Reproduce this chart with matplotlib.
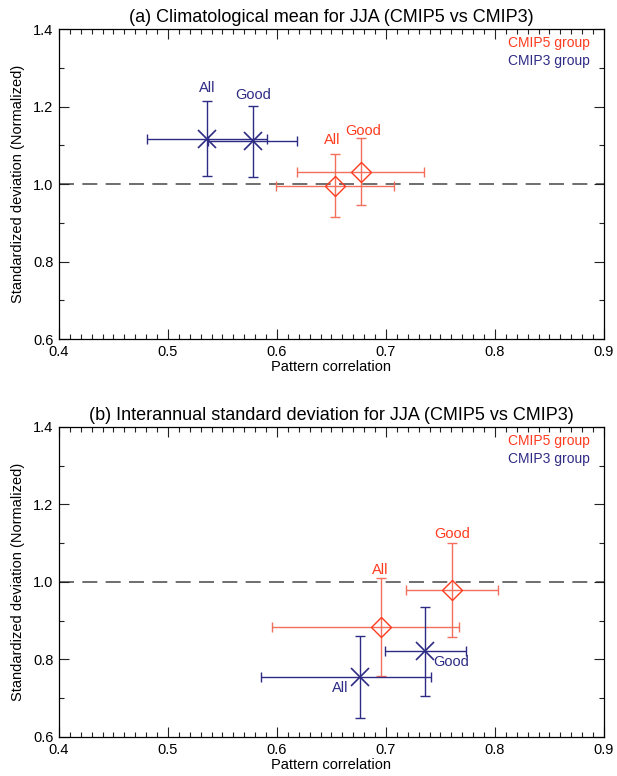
import matplotlib.pyplot as plt
from matplotlib.ticker import MultipleLocator

plt.rcParams['font.family'] = ['Liberation Sans', 'DejaVu Sans']

# panel (a) climatological mean, panel (b) interannual std
titles = ['(a) Climatological mean for JJA (CMIP5 vs CMIP3)',
          '(b) Interannual standard deviation for JJA (CMIP5 vs CMIP3)']

# each group: [All, Good]; corr, corr low/high, std, std low/high
cmip3_corr = [[0.536, 0.578], [0.676, 0.736]]
cmip3_corr_lo = [[0.481, 0.537], [0.585, 0.699]]
cmip3_corr_hi = [[0.591, 0.618], [0.741, 0.773]]
cmip3_std = [[1.116, 1.111], [0.754, 0.822]]
cmip3_std_lo = [[1.021, 1.017], [0.648, 0.707]]
cmip3_std_hi = [[1.214, 1.202], [0.861, 0.936]]

cmip5_corr = [[0.653, 0.677], [0.695, 0.761]]
cmip5_corr_lo = [[0.599, 0.618], [0.595, 0.718]]
cmip5_corr_hi = [[0.707, 0.735], [0.767, 0.803]]
cmip5_std = [[0.995, 1.032], [0.885, 0.978]]
cmip5_std_lo = [[0.914, 0.945], [0.757, 0.857]]
cmip5_std_hi = [[1.077, 1.118], [1.009, 1.100]]

point_names = ['All', 'Good']

RED = '#ff3b1f'
RED_BAR = '#f4705c'
BLUE = '#2e2b85'

# label offsets in points (dx, dy) per panel / group / point
off3 = [[(0, 37), (0, 33)], [(-14, -8), (19, -8)]]
off5 = [[(-1.5, 33), (1.5, 29)], [(0, 41), (0, 41)]]

fig = plt.figure(figsize=(6.17, 7.76), dpi=100)
ax_a = fig.add_axes([0.0956, 0.5631, 0.8833, 0.3995])
ax_b = fig.add_axes([0.0956, 0.0503, 0.8833, 0.3995])

for p, ax in enumerate([ax_a, ax_b]):
    ax.axhline(1.0, color='#555555', lw=1.2, dashes=(9, 5), zorder=1)

    for i in range(2):
        # CMIP5 diamonds
        x, y = cmip5_corr[p][i], cmip5_std[p][i]
        ax.errorbar(x, y,
                    xerr=[[x - cmip5_corr_lo[p][i]], [cmip5_corr_hi[p][i] - x]],
                    yerr=[[y - cmip5_std_lo[p][i]], [cmip5_std_hi[p][i] - y]],
                    fmt='none', ecolor=RED_BAR, elinewidth=1.0, capsize=3.5,
                    capthick=1.0, zorder=2)
        ax.plot(x, y, marker='D', ms=10, mfc='none', mec=RED, mew=1.0,
                ls='none', zorder=3)
        ax.annotate(point_names[i], (x, y), xytext=off5[p][i],
                    textcoords='offset points', ha='center', va='center',
                    color=RED, fontsize=10.5)

        # CMIP3 crosses
        x, y = cmip3_corr[p][i], cmip3_std[p][i]
        ax.errorbar(x, y,
                    xerr=[[x - cmip3_corr_lo[p][i]], [cmip3_corr_hi[p][i] - x]],
                    yerr=[[y - cmip3_std_lo[p][i]], [cmip3_std_hi[p][i] - y]],
                    fmt='none', ecolor=BLUE, elinewidth=1.0, capsize=3.5,
                    capthick=1.0, zorder=4)
        ax.plot(x, y, marker='x', ms=13, mec=BLUE, mew=1.2,
                ls='none', zorder=5)
        ax.annotate(point_names[i], (x, y), xytext=off3[p][i],
                    textcoords='offset points', ha='center', va='center',
                    color=BLUE, fontsize=10.5)

    ax.text(0.975, 0.955, 'CMIP5 group', color=RED, transform=ax.transAxes,
            ha='right', va='center', fontsize=10)
    ax.text(0.975, 0.898, 'CMIP3 group', color=BLUE, transform=ax.transAxes,
            ha='right', va='center', fontsize=10)

    ax.set_xlim(0.4, 0.9)
    ax.set_ylim(0.6, 1.4)
    ax.xaxis.set_major_locator(MultipleLocator(0.1))
    ax.xaxis.set_minor_locator(MultipleLocator(0.01))
    ax.yaxis.set_major_locator(MultipleLocator(0.2))
    ax.yaxis.set_minor_locator(MultipleLocator(0.1))
    ax.set_xticks([0.4, 0.5, 0.6, 0.7, 0.8, 0.9])
    ax.set_xticklabels(['0.4', '0.5', '0.6', '0.7', '0.8', '0.9'])
    ax.set_yticks([0.6, 0.8, 1.0, 1.2, 1.4])
    ax.set_yticklabels(['0.6', '0.8', '1.0', '1.2', '1.4'])
    ax.tick_params(which='both', direction='in', top=True, right=True,
                   labelsize=10.5, width=0.8, color='#222222')
    ax.tick_params(which='major', length=7, pad=4)
    ax.tick_params(which='minor', length=3.5)
    for s in ax.spines.values():
        s.set_linewidth(0.9)
    ax.set_xlabel('Pattern correlation', fontsize=10.5, labelpad=1)
    ax.set_ylabel('Standardized deviation (Normalized)', fontsize=10.5,
                  labelpad=6)
    ax.set_title(titles[p], fontsize=13, pad=5)

fig.savefig('out.png', dpi=100)
